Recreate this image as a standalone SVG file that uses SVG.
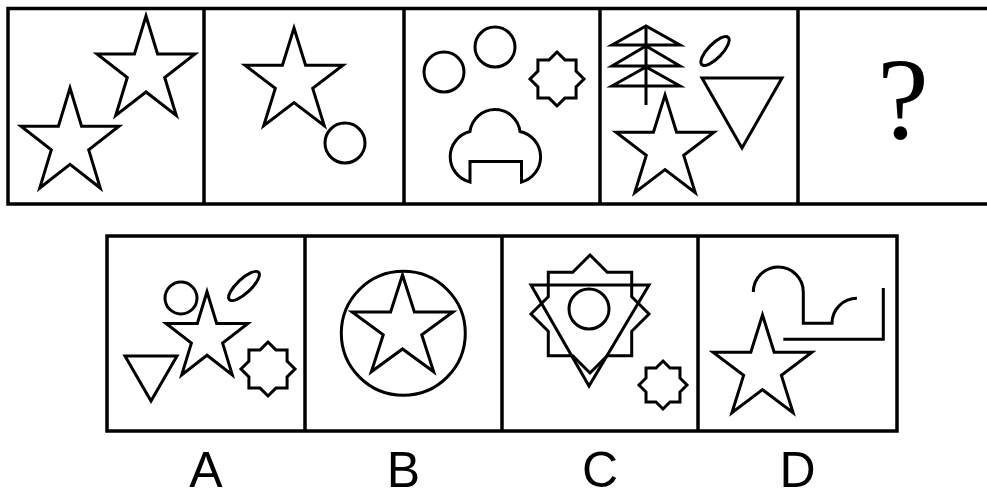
<svg xmlns="http://www.w3.org/2000/svg" xmlns:xlink="http://www.w3.org/1999/xlink" width="987" height="498" viewBox="0 0 987 498">
<style>
.s{fill:none;stroke:#000;stroke-width:3;stroke-linejoin:miter}
.f{fill:none;stroke:#000;stroke-width:3.5}
.lbl{font-family:"Liberation Sans",sans-serif;font-size:50px;text-anchor:middle;fill:#000}
.q{font-family:"Liberation Serif",serif;font-size:116px;text-anchor:middle;fill:#000}
</style>
<defs>
<path id="star" class="s" vector-effect="non-scaling-stroke" d="M0,-1 L0.2245,-0.309 L0.951,-0.309 L0.3633,0.118 L0.588,0.809 L0,0.382 L-0.588,0.809 L-0.3633,0.118 L-0.951,-0.309 L-0.2245,-0.309 Z"/>
<path id="oct" class="s" vector-effect="non-scaling-stroke" d="M0,-1 L0.2928,-0.7068 L0.7071,-0.7071 L0.7068,-0.2928 L1,0 L0.7068,0.2928 L0.7071,0.7071 L0.2928,0.7068 L0,1 L-0.2928,0.7068 L-0.7071,0.7071 L-0.7068,0.2928 L-1,0 L-0.7068,-0.2928 L-0.7071,-0.7071 L-0.2928,-0.7068 Z"/>
</defs>
<rect width="987" height="498" fill="#fff"/>
<g id="frames">
<rect class="f" x="8" y="8.5" width="1000" height="195.5"/>
<line class="f" x1="204" y1="8.5" x2="204" y2="204"/>
<line class="f" x1="404" y1="8.5" x2="404" y2="204"/>
<line class="f" x1="600" y1="8.5" x2="600" y2="204"/>
<line class="f" x1="798" y1="8.5" x2="798" y2="204"/>
<rect class="f" x="107" y="236" width="790" height="195"/>
<line class="f" x1="305" y1="236" x2="305" y2="431"/>
<line class="f" x1="502" y1="236" x2="502" y2="431"/>
<line class="f" x1="698" y1="236" x2="698" y2="431"/>
</g>
<g id="panel1">
<use xlink:href="#star" transform="translate(70,143.3) scale(51.5,55.3)"/>
<use xlink:href="#star" transform="translate(146,71) scale(51.5,55)"/>
</g>
<g id="panel2">
<use xlink:href="#star" transform="translate(294,82) scale(51.5,54)"/>
<circle class="s" cx="345" cy="143" r="20"/>
</g>
<g id="panel3">
<circle class="s" cx="444" cy="72" r="20"/>
<circle class="s" cx="495" cy="47" r="20"/>
<use xlink:href="#oct" transform="translate(557,79) scale(27)"/>
<path class="s" d="M470,182 A26,26 0 0 1 470,131.5 A25.2,25.2 0 0 1 520,131.5 A26,26 0 0 1 521.5,182 L521.5,161.5 L470,161.5 Z"/>
</g>
<g id="panel4">
<line class="s" x1="646" y1="26" x2="646" y2="105"/>
<path class="s" d="M612,45 L646,26 L680,45 Z M612,66 L646,46 L680,66 Z M612,86 L646,67 L680,86 Z"/>
<ellipse class="s" cx="715" cy="51" rx="19" ry="7" transform="rotate(-46 715 51)"/>
<polygon class="s" points="702,78 782,78 742,148"/>
<use xlink:href="#star" transform="translate(665,149) scale(51.5,54)"/>
</g>
<g id="panel5">
<text class="q" x="903" y="138">?</text>
</g>
<g id="optionA">
<circle class="s" cx="181" cy="298" r="16"/>
<ellipse class="s" cx="244" cy="286" rx="20" ry="7" transform="rotate(-43 244 286)"/>
<use xlink:href="#star" transform="translate(207,337.7) scale(43,46)"/>
<polygon class="s" points="125,356 177,356 151,401"/>
<use xlink:href="#oct" transform="translate(268,369) scale(27)"/>
</g>
<g id="optionB">
<circle class="s" cx="403.3" cy="333.3" r="62"/>
<use xlink:href="#star" transform="translate(402.5,328.5) scale(53,53.5)"/>
</g>
<g id="optionC">
<use xlink:href="#oct" transform="translate(590,314) scale(59)"/>
<polygon class="s" points="531,285 649,285 589,386"/>
<circle class="s" cx="589" cy="309" r="20"/>
<use xlink:href="#oct" transform="translate(663,385) scale(24)"/>
</g>
<g id="optionD">
<use xlink:href="#star" transform="translate(762.5,369) scale(52,54)"/>
<path class="s" d="M753.3,292 A25,25 0 0 1 803.3,292 L803.3,323.3 L832,323.3 A25,25 0 0 1 857,298.3"/>
<path class="s" d="M883.3,288 L883.3,339.3 L783.3,339.3"/>
</g>
<g id="labels">
<text class="lbl" x="206" y="487">A</text>
<text class="lbl" x="403.5" y="487">B</text>
<text class="lbl" x="600" y="487">C</text>
<text class="lbl" x="797.5" y="487">D</text>
</g>
</svg>
